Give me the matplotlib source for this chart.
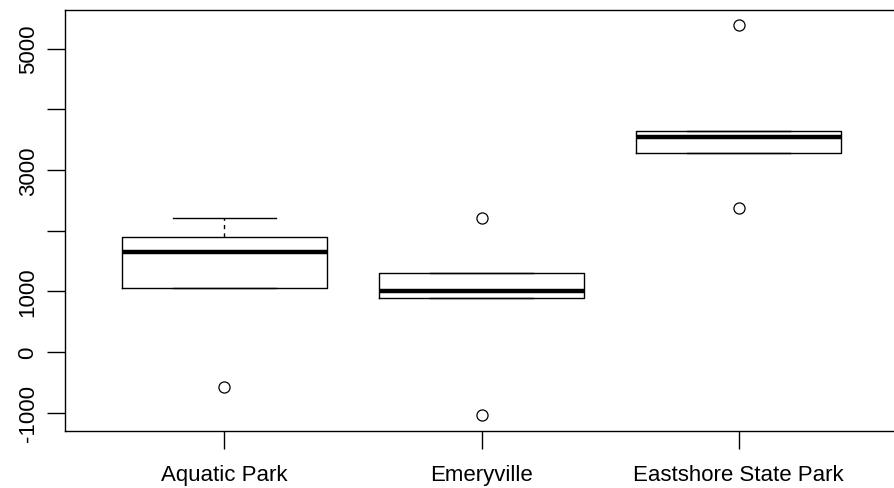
import matplotlib
matplotlib.use("Agg")
import matplotlib.pyplot as plt

plt.rcParams['font.family'] = ['Liberation Sans', 'DejaVu Sans']

# Summary statistics per site
sites = ["Aquatic Park", "Emeryville", "Eastshore State Park"]
lower_whisker = [1060, 890, 3280]
q1 = [1060, 890, 3280]
median = [1650, 1000, 3550]
q3 = [1890, 1300, 3640]
upper_whisker = [2200, 1300, 3640]
outliers = [[-580], [2200, -1040], [5390, 2380]]

y_ticks = [-1000, 0, 1000, 2000, 3000, 4000, 5000]
y_labels = ["-1000", "0", "1000", "", "3000", "", "5000"]

stats = []
for i, name in enumerate(sites):
    stats.append(dict(label=name, whislo=lower_whisker[i], q1=q1[i], med=median[i],
                      q3=q3[i], whishi=upper_whisker[i], fliers=outliers[i]))

W, H = 894, 489
fig = plt.figure(figsize=(W / 100, H / 100), dpi=100)
ax = fig.add_axes([65 / W, (H - 432) / H, 833 / W, 421.3 / H])

positions = [1, 2, 3]
ax.bxp(stats, positions=positions, widths=0.8, showfliers=True,
       boxprops=dict(color="black", linewidth=1.0),
       medianprops=dict(color="black", linewidth=3.2, solid_capstyle="butt"),
       whiskerprops=dict(color="black", linewidth=1.0, linestyle=(0, (3, 3))),
       capprops=dict(color="black", linewidth=1.0),
       capwidths=0.4,
       flierprops=dict(marker="o", markersize=8, markerfacecolor="none",
                       markeredgecolor="black", markeredgewidth=0.9))

ax.set_xlim(0.38, 3.62)
ax.set_ylim(-1301, 5640)

ax.set_xticks(positions)
ax.set_xticklabels(sites, fontsize=16)
ax.set_yticks(y_ticks)
ax.set_yticklabels(y_labels, fontsize=16, rotation=90, va="center")
ax.tick_params(axis="both", length=13, width=1.0, color="black")
ax.tick_params(axis="x", pad=11)
ax.tick_params(axis="y", pad=6)

for side in ["top", "left", "bottom", "right"]:
    ax.spines[side].set_linewidth(1.0)
    ax.spines[side].set_color("black")

fig.savefig("out.png", dpi=100)
